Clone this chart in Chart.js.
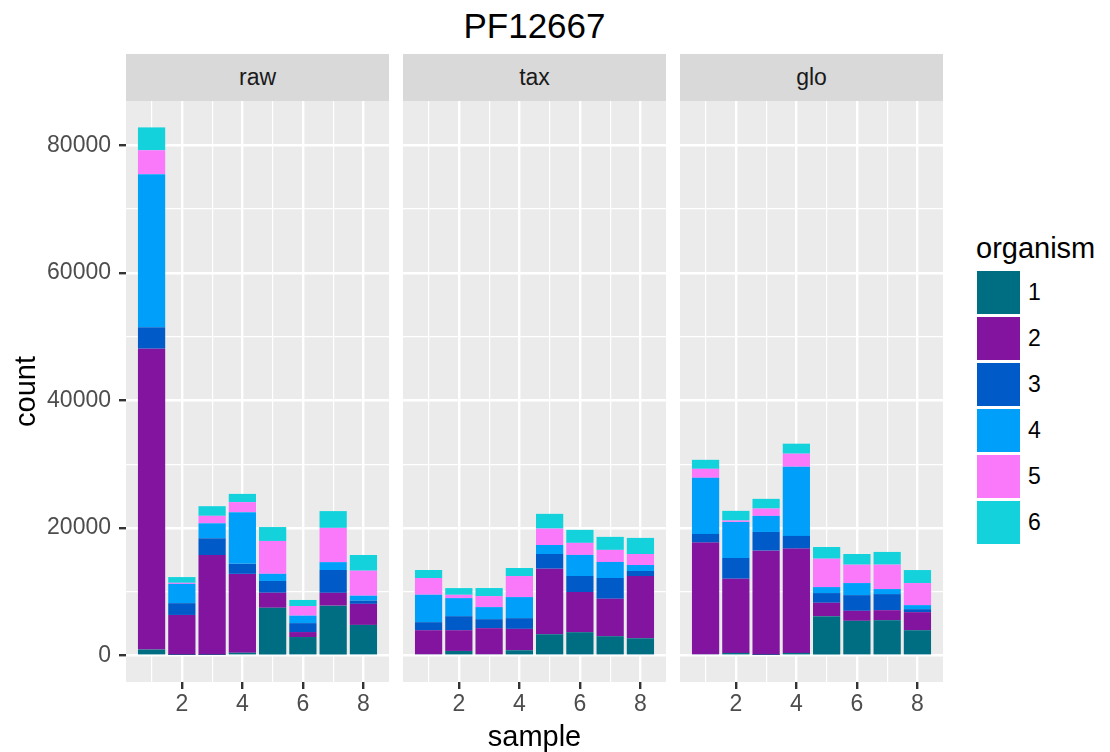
<!DOCTYPE html>
<html>
<head>
<meta charset="utf-8">
<script src="https://cdn.jsdelivr.net/npm/chart.js@4"></script>
<style>
    body { margin: 0; background: #ffffff; font-family: "Liberation Sans", Arial, sans-serif; }
    #page { position: relative; width: 1110px; height: 752px; overflow: hidden; }
    .abs { position: absolute; }
    #titre { left: 0; top: 8px; width: 1069px; text-align: center; font-size: 35px; line-height: 35px; color: #000; }
    .strip { top: 54px; width: 263px; height: 47px; line-height: 47px; background: #d9d9d9; color: #1a1a1a; font-size: 23px; text-align: center; }
    canvas { position: absolute; top: 101px; }
    .leg-titre { left: 976px; top: 234px; font-size: 29px; line-height: 29px; color: #000; }
    .leg-cle { left: 977px; width: 43px; height: 43px; }
    .leg-texte { left: 1028px; height: 43px; line-height: 43px; font-size: 23px; color: #000; }
</style>
</head>
<body>
<div id="page">
    <div id="titre" class="abs">PF12667</div>
    <div class="abs strip" style="left:126px">raw</div>
    <div class="abs strip" style="left:403px">tax</div>
    <div class="abs strip" style="left:680px">glo</div>
    <canvas id="panneau-raw" width="389" height="651" style="left:0px"></canvas>
    <canvas id="panneau-tax" width="263" height="651" style="left:403px"></canvas>
    <canvas id="panneau-glo" width="263" height="651" style="left:680px"></canvas>
    <div id="legende"></div>
</div>
<script>
    const samples = [1, 2, 3, 4, 5, 6, 7, 8]
    const organisms = ["1", "2", "3", "4", "5", "6"]
    const couleurs = ["#006e82", "#8214a0", "#005ac8", "#00a0fa", "#fa78fa", "#14d2dc"]

    // counts per organism (rows) and sample (columns)
    const raw = [
        [950, 100, 100, 450, 7500, 2910, 7830, 4810],
        [47160, 6270, 15660, 12360, 2350, 780, 2010, 3300],
        [3360, 1850, 2630, 1570, 1850, 1400, 3580, 500],
        [24000, 3020, 2350, 8110, 1120, 1170, 1230, 780],
        [3750, 170, 1170, 1570, 5150, 1510, 5370, 3920],
        [3580, 900, 1510, 1290, 2180, 950, 2630, 2460],
    ]
    const tax = [
        [210, 730, 210, 840, 3350, 3670, 3040, 2720],
        [3770, 3250, 4090, 3350, 10270, 6290, 5870, 9750],
        [1260, 2200, 1410, 1680, 2310, 2520, 3250, 790],
        [4300, 2830, 1890, 3300, 1410, 3300, 2520, 940],
        [2620, 520, 1730, 3300, 2570, 1890, 1890, 1730],
        [1260, 1050, 1260, 1260, 2310, 2040, 2040, 2520],
    ]
    const glo = [
        [210, 420, 100, 420, 6180, 5450, 5550, 3980],
        [17500, 11630, 16350, 16350, 2100, 1570, 1570, 2830],
        [1360, 3250, 2930, 1990, 1520, 2460, 2520, 470],
        [8800, 5660, 2520, 10850, 940, 1890, 790, 630],
        [1410, 210, 1150, 2040, 4450, 2880, 3830, 3460],
        [1410, 1520, 1520, 1570, 1830, 1680, 1990, 2040],
    ]

    const xBreaks = [2, 4, 6, 8]
    const xMinor = [1, 3, 5, 7]
    const yBreaks = [0, 20000, 40000, 60000, 80000]
    const yMinor = [10000, 30000, 50000, 70000]

    Chart.defaults.font.family = '"Liberation Sans", Arial, sans-serif'

    // grey panel background, drawn under the grid
    const fondPanneau = {
        id: "fondPanneau",
        beforeDraw(chart) {
            const {ctx, chartArea: a} = chart
            ctx.save()
            ctx.fillStyle = "#ebebeb"
            ctx.fillRect(a.left, a.top, a.right - a.left, a.bottom - a.top)
            ctx.restore()
        },
    }

    function trier(a, b) { return a - b }

    // true when the scriptable context is on a major break
    function estMajeur(c, breaks) {
        return Boolean(c.tick) && breaks.includes(c.tick.value)
    }

    function creerPanneau(id, valeurs, avecAxeY, avecTitreX) {
        const datasets = valeurs.map((serie, k) => ({
            label: organisms[k],
            data: samples.map((s, i) => ({x: s, y: serie[i]})),
            backgroundColor: couleurs[k],
            borderWidth: 0,
            categoryPercentage: 1,
            barPercentage: 0.9,
        }))

        const config = {
            type: "bar",
            data: {datasets: datasets},
            options: {
                responsive: false,
                animation: false,
                devicePixelRatio: 1,
                layout: {padding: 0},
                plugins: {legend: {display: false}, tooltip: {enabled: false}},
                scales: {
                    x: {
                        type: "linear",
                        stacked: true,
                        offset: false,
                        min: 0.155,
                        max: 8.845,
                        afterBuildTicks: scale => {
                            scale.ticks = xBreaks.concat(xMinor).sort(trier).map(v => ({value: v}))
                        },
                        afterFit: scale => {
                            scale.height = 70
                            scale.paddingLeft = 0
                            scale.paddingRight = 0
                        },
                        ticks: {
                            autoSkip: false,
                            maxRotation: 0,
                            minRotation: 0,
                            padding: 2,
                            color: "#4d4d4d",
                            font: {size: 23},
                            callback: v => xBreaks.includes(v) ? String(v) : "",
                        },
                        grid: {
                            offset: false,
                            color: "#ffffff",
                            lineWidth: c => estMajeur(c, xBreaks) ? 2.4 : 1.2,
                            tickLength: 7,
                            tickWidth: 2.4,
                            tickColor: c => estMajeur(c, xBreaks) ? "#333333" : "rgba(0,0,0,0)",
                        },
                        border: {display: false},
                        title: {
                            display: avecTitreX,
                            text: "sample",
                            color: "#000000",
                            font: {size: 29, lineHeight: 1},
                            padding: {top: 0, bottom: 0},
                        },
                    },
                    y: {
                        type: "linear",
                        stacked: true,
                        min: -4140,
                        max: 86940,
                        afterBuildTicks: scale => {
                            scale.ticks = yBreaks.concat(yMinor).sort(trier).map(v => ({value: v}))
                        },
                        afterFit: scale => {
                            scale.width = avecAxeY ? 126 : 0
                            scale.paddingTop = 0
                            scale.paddingBottom = 0
                        },
                        ticks: {
                            display: avecAxeY,
                            padding: 8,
                            color: "#4d4d4d",
                            font: {size: 23},
                            callback: v => yBreaks.includes(v) ? String(v) : "",
                        },
                        grid: {
                            color: "#ffffff",
                            lineWidth: c => estMajeur(c, yBreaks) ? 2.4 : 1.2,
                            drawTicks: avecAxeY,
                            tickLength: 7,
                            tickWidth: 2.4,
                            tickColor: c => estMajeur(c, yBreaks) ? "#333333" : "rgba(0,0,0,0)",
                        },
                        border: {display: false},
                        title: {
                            display: avecAxeY,
                            text: "count",
                            color: "#000000",
                            font: {size: 29},
                            padding: {top: 10, bottom: 0},
                        },
                    },
                },
            },
            plugins: [fondPanneau],
        }

        return new Chart(document.querySelector(id), config)
    }

    creerPanneau("#panneau-raw", raw, true, false)
    creerPanneau("#panneau-tax", tax, false, true)
    creerPanneau("#panneau-glo", glo, false, false)

    // legend built from the same arrays
    const legende = document.querySelector("#legende")
    let html = '<div class="abs leg-titre">organism</div>'
    organisms.forEach((nom, k) => {
        const haut = 271 + k * 46
        html += `<div class="abs leg-cle" style="top:${haut}px;background:${couleurs[k]}"></div>`
        html += `<div class="abs leg-texte" style="top:${haut}px">${nom}</div>`
    })
    legende.innerHTML = html
</script>
</body>
</html>
